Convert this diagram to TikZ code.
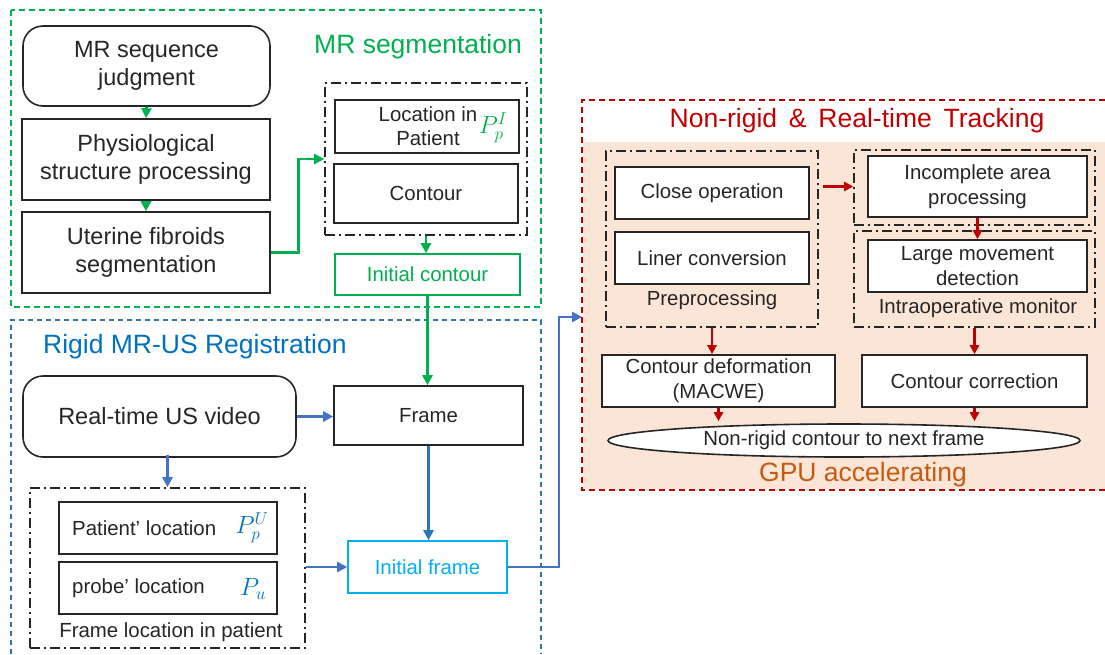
\documentclass[tikz,border=0pt]{standalone}
\usepackage{fontspec}
\setmainfont{Liberation Sans}
\usetikzlibrary{shapes.geometric,arrows.meta,calc}

\definecolor{segGreen}{HTML}{00B050}
\definecolor{regBlue}{HTML}{0070C0}
\definecolor{regLine}{HTML}{2E75B6}
\definecolor{flowBlue}{HTML}{4472C4}
\definecolor{frameCyan}{HTML}{00B0F0}
\definecolor{trackRed}{HTML}{C00000}
\definecolor{gpuBrown}{HTML}{C55A11}
\definecolor{gpuPeach}{HTML}{FBE5D6}
\definecolor{ink}{HTML}{262626}

\newcommand\fbig{\fontsize{23.5}{28.5}\selectfont}
\newcommand\fmid{\fontsize{20.4}{24.5}\selectfont}
\newcommand\ftitle{\fontsize{26.5}{30}\selectfont}
\newcommand\fsym{\fontsize{25}{30}\selectfont}

\begin{document}
\begin{tikzpicture}[x=1pt,y=-1pt,
  box/.style={draw=ink,line width=1.6pt,fill=white,inner sep=0pt,align=center,text=ink},
  bigbox/.style={box,font=\fbig},
  midbox/.style={box,font=\fmid},
  rbox/.style={bigbox,rounded corners=20pt},
  grp/.style={draw=ink,line width=1.6pt,dash pattern=on 10pt off 4pt on 2pt off 4pt,inner sep=0pt},
  lbl/.style={font=\fmid,text=ink,inner sep=0pt},
  sectgreen/.style={draw=segGreen,line width=1.5pt,dash pattern=on 6pt off 4pt},
  sectblue/.style={draw=regLine,line width=1.5pt,dash pattern=on 5pt off 4pt},
  sectred/.style={draw=trackRed,line width=1.5pt,dash pattern=on 6pt off 4pt},
  garrow/.style={-{Triangle[length=10pt,width=10pt]},draw=segGreen,line width=2.7pt},
  barrow/.style={-{Triangle[length=10pt,width=10pt]},draw=flowBlue,line width=2.7pt},
  rarrow/.style={-{Triangle[length=9pt,width=9pt]},draw=trackRed,line width=2.2pt}]
\useasboundingbox (0,0) rectangle (1105,654);

% ---------- section frames ----------
\draw[sectgreen] (11,10) rectangle (541,307);
\draw[sectblue] (11,654) -- (11,320) -- (541,320) -- (541,654);
\fill[gpuPeach] (583,142) rectangle (1105,489);
\draw[sectred] (1105,100) -- (582,100) -- (582,490) -- (1105,490);

\node[font=\ftitle,text=segGreen,anchor=base west,inner sep=0pt] (tseg) at (314,53) {MR segmentation};
\node[font=\ftitle,text=regBlue,anchor=base west,inner sep=0pt] (treg) at (43,353) {Rigid MR-US Registration};
\node[font=\ftitle,text=trackRed,inner sep=0pt] (ttrack) at (857,121) {Non-rigid \,\& \,Real-time \,Tracking};
\node[font=\ftitle,text=gpuBrown,inner sep=0pt] (tgpu) at (863,475) {GPU accelerating};

% ---------- MR segmentation ----------
\node[rbox,minimum width=247pt,minimum height=80pt] (mrseq) at (146.5,66) {MR sequence\\judgment};
\node[bigbox,minimum width=248pt,minimum height=81pt] (phys) at (146,159.5) {Physiological\\structure processing};
\node[bigbox,minimum width=248pt,minimum height=81pt] (uter) at (146,252.5) {Uterine fibroids\\segmentation};

\node[grp,minimum width=202pt,minimum height=152pt] (locgrp) at (426,159) {};
\node[midbox,minimum width=184pt,minimum height=53pt] (loc) at (427,126.5) {};
\node[lbl,align=center,font=\fontsize{20.4}{24}\selectfont] (loctxt) at (428,126) {Location in\\Patient};
\node[inner sep=0pt,text=segGreen,font=\fsym] (locsym) at (493,128) {$P_p^I$};
\node[midbox,minimum width=184pt,minimum height=59pt] (cont) at (426,193.5) {Contour};
\node[midbox,draw=segGreen,text=segGreen,minimum width=185pt,minimum height=41pt] (initc) at (427.5,274.5) {Initial contour};

% ---------- Rigid MR-US registration ----------
\node[rbox,minimum width=273pt,minimum height=81pt] (usv) at (159.5,416.5) {Real-time US video};
\node[midbox,minimum width=189pt,minimum height=59pt] (frame) at (428.5,415.5) {Frame};

\node[grp,minimum width=275pt,minimum height=160pt] (fgrp) at (167.5,568) {};
\node[midbox,minimum width=218pt,minimum height=52pt] (ploc) at (168,528) {};
\node[lbl,anchor=west] (ploctxt) at (72,528) {Patient’ location};
\node[inner sep=0pt,text=regBlue,font=\fsym] (plocsym) at (252,528) {$P_p^U$};
\node[midbox,minimum width=218pt,minimum height=52pt] (prloc) at (168,588) {};
\node[lbl,anchor=west] (prloctxt) at (72,588) {probe’ location};
\node[inner sep=0pt,text=regBlue,font=\fsym] (prlocsym) at (253,589) {$P_u$};
\node[lbl] (fgrptxt) at (171,632) {Frame location in patient};

\node[midbox,draw=frameCyan,text=frameCyan,minimum width=159pt,minimum height=52pt] (initf) at (427.5,567) {Initial frame};

% ---------- Non-rigid tracking ----------
\node[grp,minimum width=212pt,minimum height=176pt] (pregrp) at (712,239) {};
\node[midbox,minimum width=194pt,minimum height=52pt] (closeop) at (712,193) {Close operation};
\node[midbox,minimum width=194pt,minimum height=52pt] (liner) at (712,258) {Liner conversion};
\node[lbl] (pretxt) at (712,300) {Preprocessing};

\node[grp,minimum width=241pt,minimum height=75pt] (incgrp) at (974.5,187.5) {};
\node[grp,minimum width=241pt,minimum height=96pt] (intgrp) at (974.5,279) {};
\node[midbox,minimum width=219pt,minimum height=61pt] (incomp) at (977.5,186.5) {Incomplete area\\processing};
\node[midbox,minimum width=219pt,minimum height=52pt] (large) at (977.5,266) {Large movement\\detection};
\node[lbl] (inttxt) at (978,308) {Intraoperative monitor};

\node[midbox,minimum width=233pt,minimum height=52pt,font=\fontsize{20.4}{25}\selectfont] (cdef) at (718.5,381) {Contour deformation\\(MACWE)};
\node[midbox,minimum width=225pt,minimum height=52pt] (ccorr) at (974.5,381) {Contour correction};
\node[midbox,ellipse,minimum width=472pt,minimum height=33pt] (nr) at (844,440.5) {Non-rigid contour to next frame};

% ---------- connectors ----------
\coordinate (trackin) at (582,317);

\draw[garrow] (mrseq.south) -- (phys.north);
\draw[garrow] (phys.south) -- (uter.north);
\draw[garrow] (uter.east) -- ++(28,0) |- (locgrp.west);
\draw[garrow] (locgrp.south) -- (locgrp.south |- initc.north);
\draw[garrow] (initc.south) -- (initc.south |- frame.north);

\draw[barrow] (usv.east) -- (usv.east -| frame.west);
\draw[barrow] ([yshift=3pt]usv.south -| fgrp.north) -- (fgrp.north);
\draw[barrow,draw=regLine] (frame.south) -- (frame.south |- initf.north);
\draw[barrow] (fgrp.east |- initf.west) -- (initf.west);
\draw[barrow] (initf.east) -- (559,567) |- (trackin);

\draw[rarrow] ([xshift=4pt]pregrp.east |- incomp.west) -- (incgrp.west |- incomp.west);
\draw[rarrow] (incomp.south) -- (large.north);
\draw[rarrow] (pregrp.south) -- (pregrp.south |- cdef.north);
\draw[rarrow] (intgrp.south) -- (ccorr.north);
\draw[rarrow] (cdef.south) -- ([yshift=2pt]cdef.south |- nr.north);
\draw[rarrow] (ccorr.south) -- ([yshift=2pt]ccorr.south |- nr.north);
\end{tikzpicture}
\end{document}
